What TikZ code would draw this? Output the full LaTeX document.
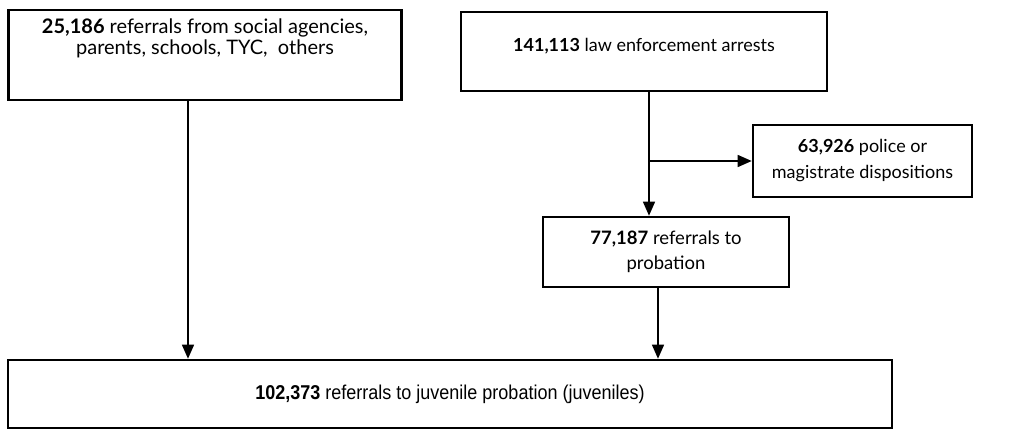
\documentclass[tikz,border=0pt]{standalone}
\usepackage{fontspec}
\setmainfont{Lato}
\newfontfamily\narrowfont[FakeStretch=0.9]{Liberation Sans}
\usetikzlibrary{arrows.meta,positioning,calc}

\begin{document}
\begin{tikzpicture}
  [x=1pt,y=-1pt,
   box/.style={rectangle,draw=black,line width=2.6pt,inner sep=4pt,
               align=center,font=\fontsize{18}{25}\selectfont},
   flow/.style={draw=black,line width=1.4pt,
                -{Triangle[length=14pt,width=12pt]}}]
  \useasboundingbox (0,0) rectangle (1012,430);
  \node[box,minimum width=392,minimum height=90,
        font=\fontsize{20}{20.5}\selectfont] (social) at (205,55)
    {\parbox[c][80pt][t]{385pt}{\centering\vspace{4pt}%
      \textbf{25,186} referrals from social agencies,\\
      parents, schools, TYC,~ others}};
  \node[box,minimum width=366,minimum height=79,
        font=\fontsize{18}{20}\selectfont] (arrests) at (644,51.5)
    {\raisebox{4pt}[0.7em][0.25em]{\textbf{141,113} law enforcement arrests}};
  \node[box,minimum width=219,minimum height=72,
        font=\fontsize{18}{26}\selectfont] (police) at (862.5,161)
    {\textbf{63,926} police or\\ magistrate dispositions};
  \node[box,minimum width=246,minimum height=70,
        font=\fontsize{18.5}{25}\selectfont] (probation) at (666,252)
    {\textbf{77,187} referrals to\\ probation};
  \node[box,minimum width=884,minimum height=68,
        font=\narrowfont\fontsize{20}{22}\selectfont] (juvenile) at (450,394)
    {\textbf{102,373} referrals to juvenile probation (juveniles)};
  \coordinate (split) at ([xshift=5pt]arrests.south |- police.west);
  \draw[flow] ([xshift=-17pt]social.south) -- ([xshift=-17pt]social.south |- juvenile.north);
  \draw[flow] ([xshift=5pt]arrests.south) -- ([xshift=5pt]arrests.south |- probation.north);
  \draw[flow] (split) -- (police.west);
  \draw[flow] ([xshift=-8pt]probation.south) -- ([xshift=-8pt]probation.south |- juvenile.north);
\end{tikzpicture}
\end{document}
